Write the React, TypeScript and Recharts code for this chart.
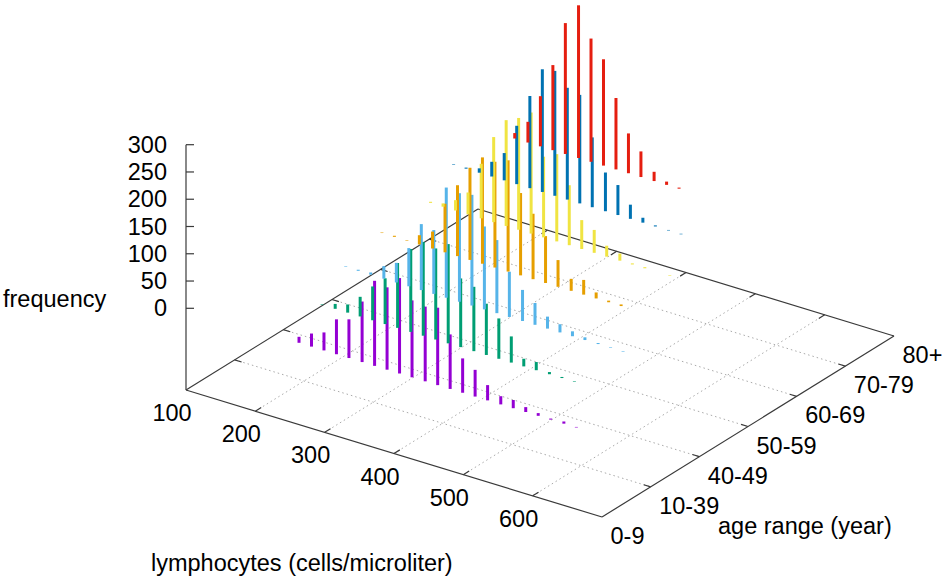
import React from 'react';
import { ComposedChart, XAxis, YAxis, Scatter, ErrorBar, Line } from 'recharts';

// ---------- data ----------
const lymphBins = [135, 153, 172, 190, 208, 226, 245, 263, 281, 299, 317, 335, 354, 372, 390, 408, 426, 445, 463, 481, 499, 517, 535, 554, 572, 590, 608, 626, 645, 663];
const ageGroups = ['0-9', '10-39', '40-49', '50-59', '60-69', '70-79', '80+'];
const lymphTicks = [100, 200, 300, 400, 500, 600];
const freqTicks = [0, 50, 100, 150, 200, 250, 300];

const freqAge0to9 = [0, 0, 0, 0, 0, 0, 0, 11, 24, 33, 64, 71, 111, 156, 151, 175, 141, 137, 142, 100, 63, 49, 28, 15, 15, 9, 5, 2, 4, 1];
const freqAge10to39 = [0, 0, 0, 0, 0, 1, 9, 15, 36, 62, 84, 119, 152, 172, 167, 182, 126, 118, 94, 74, 48, 14, 15, 4, 2, 1, 0, 0, 0, 0];
const freqAge40to49 = [0, 0, 0, 1, 2, 4, 23, 36, 70, 121, 117, 202, 199, 203, 152, 134, 83, 57, 40, 22, 15, 9, 5, 2, 1, 1, 0, 0, 0, 0];
const freqAge50to59 = [0, 0, 1, 2, 1, 17, 31, 89, 130, 169, 195, 194, 204, 151, 120, 86, 49, 22, 27, 11, 3, 3, 0, 0, 0, 0, 0, 0, 0, 0];
const freqAge60to69 = [0, 0, 2, 6, 19, 40, 100, 156, 194, 205, 222, 148, 160, 110, 53, 42, 20, 13, 2, 2, 0, 1, 0, 0, 0, 0, 0, 0, 0, 0];
const freqAge70to79 = [1, 2, 8, 27, 50, 107, 169, 225, 229, 205, 199, 128, 71, 55, 26, 9, 2, 1, 1, 0, 0, 0, 0, 0, 0, 0, 0, 0, 0, 0];
const freqAge80plus = [0, 10, 38, 92, 156, 240, 280, 226, 195, 131, 73, 47, 17, 6, 2, 0, 0, 0, 0, 0, 0, 0, 0, 0, 0, 0, 0, 0, 0, 0];

const seriesValues = [freqAge0to9, freqAge10to39, freqAge40to49, freqAge50to59, freqAge60to69, freqAge70to79, freqAge80plus];
const seriesColors = ['#9400d3', '#009e73', '#56b4e9', '#e69f00', '#f0e442', '#0072b2', '#e51e10'];

// ---------- view (3D -> 2D projection) ----------
const W = 945;
const H = 581;
const L_MIN = 100;
const L_MAX = 700;
const A_MAX = 6;
const Z_MAX = 300;
const ORIGIN_U = 186;
const ORIGIN_V = 191;
const L_DU = 416;
const L_DV = -127;
const A_DU = 292;
const A_DV = 181;
const Z_LIFT = 81.7;
const Z_SPAN = 163.6;

function project(L: number, a: number, z?: number) {
  const tl = (L - L_MIN) / (L_MAX - L_MIN);
  const ta = a / A_MAX;
  const u = ORIGIN_U + tl * L_DU + ta * A_DU;
  let v = ORIGIN_V + tl * L_DV + ta * A_DV;
  if (z !== undefined) v += Z_LIFT + (z / Z_MAX) * Z_SPAN;
  return { u, v };
}

const seg = (p: { u: number; v: number }, q: { u: number; v: number }) => [p, q];

const FONT = "'Liberation Sans', Arial, Helvetica, sans-serif";
const FS = 23.5;

// grid lines on the base plane
const gridSegs: any[] = [];
lymphTicks.slice(1).forEach((L) => gridSegs.push(seg(project(L, 0), project(L, A_MAX))));
ageGroups.slice(1, -1).forEach((_, i) => gridSegs.push(seg(project(L_MIN, i + 1), project(L_MAX, i + 1))));

// border of the base plane + vertical axis
const borderSegs: any[] = [
  seg(project(L_MIN, 0), project(L_MAX, 0)),
  seg(project(L_MAX, 0), project(L_MAX, A_MAX)),
  seg(project(L_MAX, A_MAX), project(L_MIN, A_MAX)),
  seg(project(L_MIN, A_MAX), project(L_MIN, 0)),
  seg(project(L_MIN, 0), project(L_MIN, 0, Z_MAX)),
];
const TICK_A = 0.12;
const TICK_L = 10;
lymphTicks.slice(1).forEach((L) => {
  borderSegs.push(seg(project(L, 0), project(L, TICK_A)));
  borderSegs.push(seg(project(L, A_MAX), project(L, A_MAX - TICK_A)));
});
ageGroups.slice(1, -1).forEach((_, i) => {
  borderSegs.push(seg(project(L_MIN, i + 1), project(L_MIN + TICK_L, i + 1)));
  borderSegs.push(seg(project(L_MAX, i + 1), project(L_MAX - TICK_L, i + 1)));
});
freqTicks.forEach((z) => {
  const p = project(L_MIN, 0, z);
  borderSegs.push(seg(p, { u: p.u + 8, v: p.v }));
});

// impulses
const barSeries = seriesValues.map((vals, s) =>
  lymphBins
    .map((L, i) => ({ L, f: vals[i] }))
    .filter((d) => d.f > 0)
    .map((d) => {
      const p = project(d.L, s, 0);
      return { u: p.u, v: p.v, err: [0, (d.f / Z_MAX) * Z_SPAN] };
    })
);

// labels
const labels: any[] = [];
freqTicks.forEach((z) => {
  const p = project(L_MIN, 0, z);
  labels.push({ ...p, text: String(z), anchor: 'end', dx: -19, dy: 8 });
});
lymphTicks.forEach((L) => {
  const p = project(L, 0);
  labels.push({ ...p, text: String(L), anchor: 'middle', dx: -14, dy: 31 });
});
ageGroups.forEach((g, i) => {
  const p = project(L_MAX, i);
  labels.push({ ...p, text: g, anchor: 'start', dx: 8.5, dy: 27 });
});
{
  const p0 = project(L_MIN, 0, 0);
  labels.push({ ...p0, text: 'frequency', anchor: 'start', dx: -183, dy: -1.5 });
  const p1 = project(L_MIN, 0);
  labels.push({ ...p1, text: 'lymphocytes (cells/microliter)', anchor: 'start', dx: -35, dy: 181 });
  const p2 = project(L_MAX, 0);
  labels.push({ ...p2, text: 'age range (year)', anchor: 'start', dx: 116, dy: 17 });
}

const Empty = () => <g />;

const LabelShape = (props: any) => {
  const d = props.payload;
  return (
    <text
      x={props.cx + d.dx}
      y={props.cy + d.dy}
      textAnchor={d.anchor}
      fontFamily={FONT}
      fontSize={FS}
      fill="#000"
    >
      {d.text}
    </text>
  );
};

export default function App() {
  return (
    <div style={{ position: 'absolute', left: 0, top: 0, background: '#fff' }}>
      <ComposedChart width={W} height={H} margin={{ top: 0, right: 0, bottom: 0, left: 0 }}>
        <XAxis type="number" dataKey="u" domain={[0, W]} allowDataOverflow hide />
        <YAxis type="number" dataKey="v" domain={[0, H]} allowDataOverflow hide />
        {gridSegs.map((d, i) => (
          <Line
            key={'g' + i}
            data={d}
            dataKey="v"
            type="linear"
            stroke="#aaaaaa"
            strokeWidth={1}
            strokeDasharray="1.5 3"
            dot={false}
            activeDot={false}
            isAnimationActive={false}
          />
        ))}
        {borderSegs.map((d, i) => (
          <Line
            key={'b' + i}
            data={d}
            dataKey="v"
            type="linear"
            stroke="#3a3a3a"
            strokeWidth={1.2}
            dot={false}
            activeDot={false}
            isAnimationActive={false}
          />
        ))}
        {barSeries.map((d, s) => (
          <Scatter key={'s' + s} data={d} dataKey="v" shape={Empty} isAnimationActive={false}>
            <ErrorBar dataKey="err" direction="y" width={0} stroke={seriesColors[s]} strokeWidth={3} isAnimationActive={false} />
          </Scatter>
        ))}
        <Scatter data={labels} dataKey="v" shape={LabelShape} isAnimationActive={false} />
      </ComposedChart>
    </div>
  );
}
